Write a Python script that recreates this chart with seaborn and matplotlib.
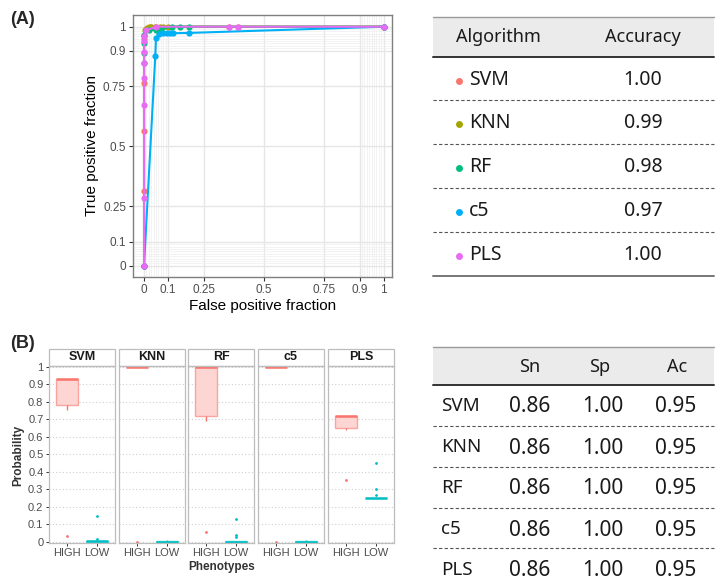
import numpy as np
import pandas as pd
import matplotlib
matplotlib.use("Agg")
import matplotlib.pyplot as plt
from matplotlib.colors import to_rgba
from matplotlib.patches import Rectangle
import seaborn as sns

# ---- ROC curves (panel A) ----
algos = ["SVM", "KNN", "RF", "c5", "PLS"]
roc_colors = ["#F8766D", "#A3A500", "#00BF7D", "#00B0F6", "#E76BF3"]

svm_fpr = [0, 0, 0, 0, 0, 0.01, 0.03, 0.05, 0.356, 0.394, 1]
svm_tpr = [0, 0.314, 0.563, 0.766, 0.95, 0.99, 1, 1, 1, 1, 1]
knn_fpr = [0, 0, 0.005, 0.012, 0.02, 0.03, 0.045, 0.065, 0.08, 0.1, 1]
knn_tpr = [0, 0.96, 0.985, 0.995, 1, 1, 1, 1, 1, 1, 1]
rf_fpr = [0, 0, 0, 0, 0, 0.02, 0.05, 0.07, 0.115, 0.15, 0.188, 1]
rf_tpr = [0, 0.85, 0.89, 0.93, 0.965, 0.985, 0.988, 0.99, 1, 1, 1, 1]
c5_fpr = [0, 0.047, 0.05, 0.064, 0.08, 0.094, 0.108, 0.122, 0.186, 1]
c5_tpr = [0, 0.877, 0.954, 0.969, 0.972, 0.972, 0.973, 0.973, 0.974, 1]
pls_fpr = [0, 0, 0, 0, 0, 0, 0, 0, 0.01, 0.049, 0.356, 0.394, 1]
pls_tpr = [0, 0.285, 0.674, 0.784, 0.85, 0.895, 0.94, 0.96, 0.985, 1, 1, 1, 1]

roc_breaks = [0, 0.1, 0.25, 0.5, 0.75, 0.9, 1]
roc_labels = ["0", "0.1", "0.25", "0.5", "0.75", "0.9", "1"]
accuracy = ["1.00", "0.99", "0.98", "0.97", "1.00"]

# ---- predicted probabilities (panel B) ----
phenos = ["HIGH", "LOW"]
svm_high = [0.035, 0.75, 0.81, 0.93, 0.93, 0.93, 0.93]
svm_low = [0, 0, 0.001, 0.002, 0.003, 0.004, 0.005, 0.006, 0.007, 0.008, 0.009, 0.018, 0.15]
knn_high = [0, 1, 1, 1, 1, 1, 1]
knn_low = [0, 0, 0, 0, 0, 0, 0.002, 0.004, 0.006, 0.008, 0.01, 0.012]
rf_high = [0.055, 0.69, 0.75, 1, 1, 1, 1]
rf_low = [0, 0, 0, 0, 0, 0.001, 0.002, 0.003, 0.004, 0.005, 0.026, 0.04, 0.13]
c5_high = [0, 1, 1, 1, 1, 1, 1]
c5_low = [0, 0, 0, 0, 0, 0, 0.002, 0.004, 0.006, 0.008, 0.01, 0.012]
pls_high = [0.355, 0.64, 0.66, 0.72, 0.72, 0.72, 0.72]
pls_low = [0.25] * 10 + [0.27, 0.30, 0.45]

# ---- confusion summary table ----
sn_vals = ["0.86"] * 5
sp_vals = ["1.00"] * 5
ac_vals = ["0.95"] * 5

box_colors = ["#F8766D", "#00BFC4"]
box_fills = ["#FDD6D3", "#B3ECED"]

sns.set_theme(style="white")
plt.rcParams["font.family"] = ["Liberation Sans", "DejaVu Sans"]

W, H = 722, 588
fig = plt.figure(figsize=(7.22, 5.88), dpi=100)


def fx(px):
    return px / W


def fy(py):
    return 1 - py / H


# overlay for the tables / labels in pixel coordinates
ov = fig.add_axes([0, 0, 1, 1], zorder=-1)
ov.set_xlim(0, W)
ov.set_ylim(H, 0)
ov.axis("off")

# ================= panel A: ROC =================
ax = fig.add_axes([fx(133), fy(277), fx(392) - fx(133), fy(15) - fy(277)])
roc = pd.concat([
    pd.DataFrame({"fpr": f, "tpr": t, "Algorithm": a})
    for a, f, t in zip(algos,
                       [svm_fpr, knn_fpr, rf_fpr, c5_fpr, pls_fpr],
                       [svm_tpr, knn_tpr, rf_tpr, c5_tpr, pls_tpr])
])
sns.lineplot(data=roc, x="fpr", y="tpr", hue="Algorithm", hue_order=algos,
             palette=roc_colors, estimator=None, sort=False, marker="o",
             markersize=4.5, markeredgewidth=0, linewidth=1.5, legend=False, ax=ax)
minor = sorted(set(np.round(np.r_[np.arange(0, 0.11, 0.01), np.arange(0.9, 1.01, 0.01)], 2)))
ax.set_xticks(roc_breaks, roc_labels)
ax.set_yticks(roc_breaks, roc_labels)
ax.set_xticks(minor, minor=True)
ax.set_yticks(minor, minor=True)
ax.grid(which="major", color="#E6E6E6", lw=1.0)
ax.grid(which="minor", color="#EFEFEF", lw=0.5)
ax.set_axisbelow(True)
ax.set_xlim(-0.046, 1.035)
ax.set_ylim(-0.047, 1.049)
ax.tick_params(which="major", length=3, width=0.8, color="#333333",
               labelsize=8.5, labelcolor="#4D4D4D", pad=2, left=True, bottom=True)
ax.tick_params(which="minor", length=0)
for s in ax.spines.values():
    s.set_color("#7F7F7F")
    s.set_linewidth(1)
ax.set_xlabel("False positive fraction", fontsize=11, color="black", labelpad=2)
ax.set_ylabel("True positive fraction", fontsize=11, color="black", labelpad=3)

fig.text(fx(10), fy(19), "(A)", fontsize=13, fontweight="bold", va="center")
fig.text(fx(10), fy(343), "(B)", fontsize=13, fontweight="bold", va="center")

# ================= table A =================
tfont = ["Noto Sans", "DejaVu Sans"]
tx0, tx1 = 433, 714
ov.add_patch(Rectangle((tx0, 17), tx1 - tx0, 40, color="#EBEBEB", lw=0))
ov.plot([tx0, tx1], [17, 17], color="#9A9A9A", lw=1)
ov.plot([tx0, tx1], [57, 57], color="#333333", lw=1.4)
ov.text(498, 37, "Algorithm", fontsize=13, family=tfont, ha="center", va="center", color="#1A1A1A")
ov.text(643, 37, "Accuracy", fontsize=13, family=tfont, ha="center", va="center", color="#1A1A1A")
rows_a = [80, 123, 167, 211, 255]
for i, (a, c, acc) in enumerate(zip(algos, roc_colors, accuracy)):
    y = rows_a[i]
    ov.plot(459, y + 1, "o", color=c, markersize=5, markeredgewidth=0)
    ov.text(469, y, a, fontsize=14, family=tfont, ha="left", va="center", color="#1A1A1A")
    ov.text(643, y, acc, fontsize=14, family=tfont, ha="center", va="center", color="#1A1A1A")
for y in [100, 144, 188, 232]:
    ov.plot([tx0, tx1], [y, y], color="#555555", lw=0.8, dashes=(3, 2))
ov.plot([tx0, tx1], [276, 276], color="#777777", lw=1.4)

# ================= table B =================
ov.add_patch(Rectangle((tx0, 347), tx1 - tx0, 38, color="#EBEBEB", lw=0))
ov.plot([tx0, tx1], [347, 347], color="#9A9A9A", lw=1)
ov.plot([tx0, tx1], [385, 385], color="#333333", lw=1.4)
for lab, x in zip(["Sn", "Sp", "Ac"], [530, 600, 677]):
    ov.text(x, 367, lab, fontsize=13, family=tfont, ha="center", va="center", color="#1A1A1A")
rows_b = [406, 447, 488, 529, 570]
for i, a in enumerate(algos):
    y = rows_b[i]
    ov.text(441, y, a, fontsize=13.5, family=tfont, ha="left", va="center", color="#1A1A1A")
    ov.text(530, y + 1, sn_vals[i], fontsize=15, family=tfont, ha="center", va="center", color="#1A1A1A")
    ov.text(603, y + 1, sp_vals[i], fontsize=15, family=tfont, ha="center", va="center", color="#1A1A1A")
    ov.text(676, y + 1, ac_vals[i], fontsize=15, family=tfont, ha="center", va="center", color="#1A1A1A")
for y in [426, 467, 508, 548]:
    ov.plot([tx0, tx1], [y, y], color="#555555", lw=0.8, dashes=(3, 2))

# ================= panel B: boxplots =================
probs = pd.concat([
    pd.DataFrame({"Algorithm": a, "Phenotype": p, "Probability": v})
    for a, hi, lo in zip(algos,
                         [svm_high, knn_high, rf_high, c5_high, pls_high],
                         [svm_low, knn_low, rf_low, c5_low, pls_low])
    for p, v in zip(phenos, [hi, lo])
])

lefts = [49, 119, 188, 258, 328]
pw, ptop, pbot = 66, 366, 543
strip_h = 17
for k, (alg, left) in enumerate(zip(algos, lefts)):
    axb = fig.add_axes([fx(left), fy(pbot), pw / W, (pbot - ptop) / H])
    for ph, col, fill in zip(phenos, box_colors, box_fills):
        sub = probs[(probs.Algorithm == alg) & (probs.Phenotype == ph)]
        sns.boxplot(data=sub, x="Phenotype", y="Probability", order=phenos,
                    color=fill, linecolor=col, saturation=1, width=0.75,
                    linewidth=1, showcaps=False, fliersize=1.0,
                    flierprops=dict(marker="o", markerfacecolor=col, markeredgecolor=col),
                    medianprops=dict(linewidth=1.8, color=col), ax=axb)
        axb.patches[-1].set_edgecolor(to_rgba(col, 0.6))
    axb.set_xlim(-0.6, 1.6)
    axb.set_ylim(-0.006, 1.003)
    axb.set_yticks(np.round(np.arange(0, 1.01, 0.1), 1))
    axb.yaxis.grid(True, color="#CFCFCF", lw=0.8, ls=(0, (1, 2)))
    axb.set_axisbelow(True)
    for s in axb.spines.values():
        s.set_color("#BDBDBD")
        s.set_linewidth(0.9)
    axb.set_xlabel("")
    axb.set_ylabel("")
    axb.tick_params(axis="x", length=2.5, width=0.7, color="#333333", labelsize=8,
                    labelcolor="#4D4D4D", pad=1.0, bottom=True)
    if k == 0:
        axb.set_yticklabels(["0"] + [f"{v:.1f}" for v in np.arange(0.1, 0.95, 0.1)] + ["1"])
        axb.tick_params(axis="y", length=2.5, width=0.7, color="#333333", labelsize=8,
                        labelcolor="#4D4D4D", pad=1.5, left=True)
    else:
        axb.tick_params(axis="y", left=False, labelleft=False)
    sh = strip_h / (pbot - ptop)
    axb.add_patch(Rectangle((0, 1), 1, sh, transform=axb.transAxes, clip_on=False,
                            facecolor="white", edgecolor="#BDBDBD", lw=0.9))
    axb.text(0.5, 1 + sh / 2, alg, transform=axb.transAxes, ha="center", va="center",
             fontsize=9, fontweight="bold", color="#1A1A1A")

fig.text(fx(18), fy(455), "Probability", rotation=90, ha="center", va="center",
         fontsize=8.5, fontweight="bold", color="#333333")
fig.text(fx(222), fy(567), "Phenotypes", ha="center", va="center",
         fontsize=8.5, fontweight="bold", color="#333333")

fig.savefig("out.png", dpi=100)
